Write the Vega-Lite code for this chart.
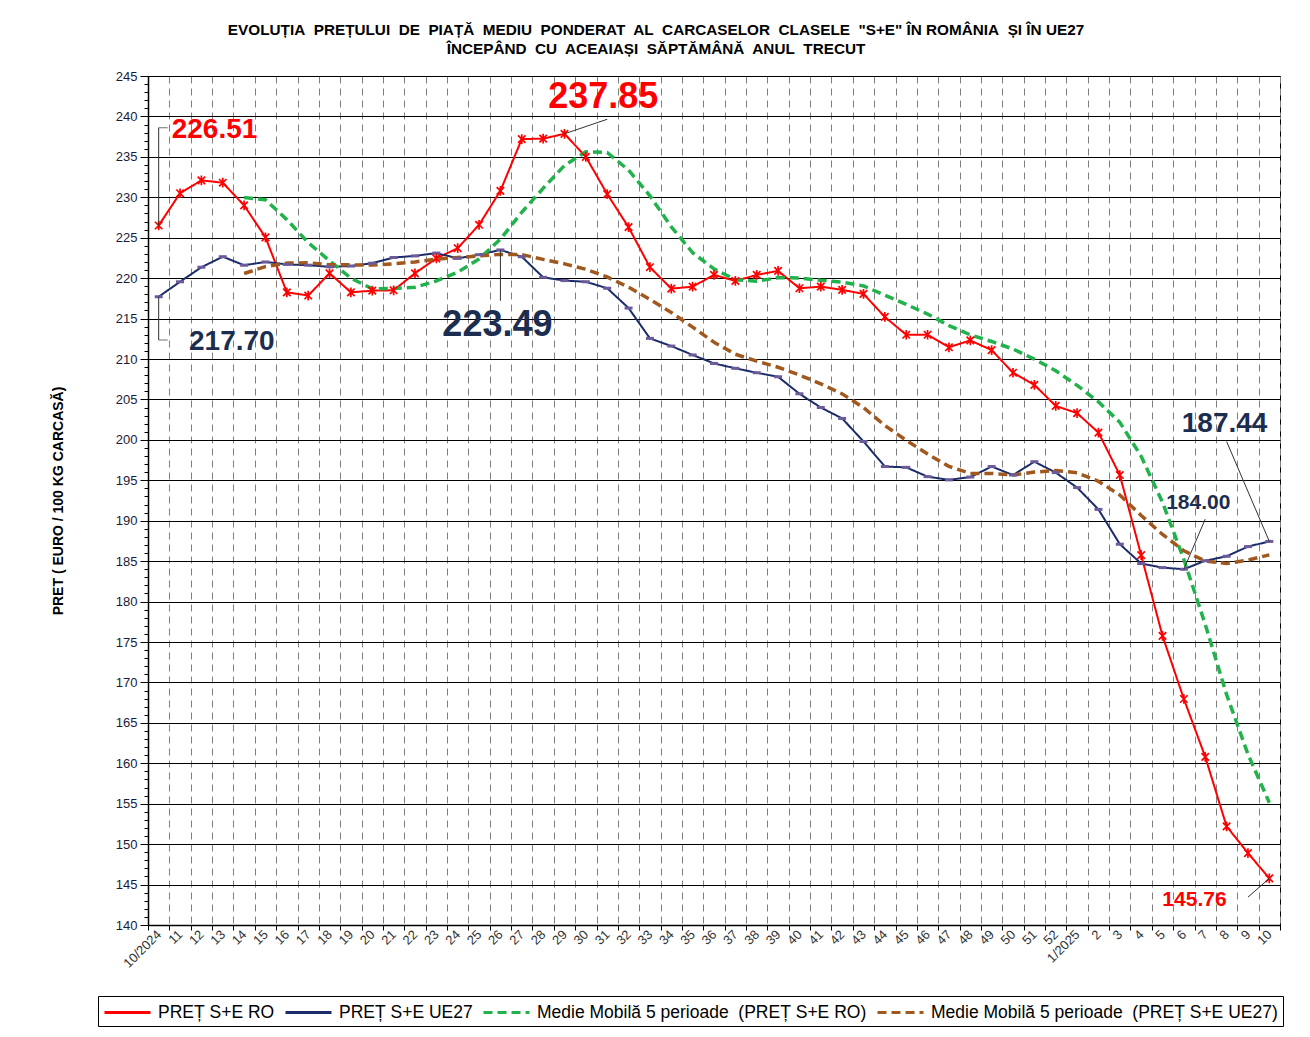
{
  "$schema": "https://vega.github.io/schema/vega-lite/v6.json",
  "width": 1132,
  "height": 849,
  "autosize": {"type": "none"},
  "padding": {"left": 148, "top": 76, "right": 30, "bottom": 112},
  "background": "white",
  "title": {
    "text": ["EVOLUȚIA\u00a0 PREȚULUI\u00a0 DE\u00a0 PIAȚĂ\u00a0 MEDIU\u00a0 PONDERAT\u00a0 AL\u00a0 CARCASELOR\u00a0 CLASELE\u00a0 \"S+E\" ÎN ROMÂNIA\u00a0 ȘI ÎN UE27", "ÎNCEPÂND\u00a0 CU\u00a0 ACEAIAȘI\u00a0 SĂPTĂMÂNĂ\u00a0 ANUL\u00a0 TRECUT"],
    "font": "Liberation Sans",
    "fontSize": 15.3,
    "fontWeight": "bold",
    "color": "#000",
    "anchor": "middle",
    "lineHeight": 19,
    "offset": 13,
    "dx": -58
  },
  "config": {"view": {"stroke": "#000", "strokeWidth": 1}},
  "datasets": {
    "weekly": [
      {"week": "10/2024", "ro": 226.51, "ue": 217.70, "ma_ro": null, "ma_ue": null},
      {"week": "11", "ro": 230.5, "ue": 219.55, "ma_ro": null, "ma_ue": null},
      {"week": "12", "ro": 232.1, "ue": 221.35, "ma_ro": null, "ma_ue": null},
      {"week": "13", "ro": 231.8, "ue": 222.65, "ma_ro": null, "ma_ue": null},
      {"week": "14", "ro": 229.0, "ue": 221.6, "ma_ro": 229.98, "ma_ue": 220.57},
      {"week": "15", "ro": 225.05, "ue": 222.0, "ma_ro": 229.69, "ma_ue": 221.43},
      {"week": "16", "ro": 218.25, "ue": 221.7, "ma_ro": 227.24, "ma_ue": 221.86},
      {"week": "17", "ro": 217.85, "ue": 221.6, "ma_ro": 224.39, "ma_ue": 221.91},
      {"week": "18", "ro": 220.6, "ue": 221.4, "ma_ro": 222.15, "ma_ue": 221.66},
      {"week": "19", "ro": 218.25, "ue": 221.5, "ma_ro": 220.0, "ma_ue": 221.64},
      {"week": "20", "ro": 218.45, "ue": 221.85, "ma_ro": 218.68, "ma_ue": 221.61},
      {"week": "21", "ro": 218.5, "ue": 222.55, "ma_ro": 218.73, "ma_ue": 221.78},
      {"week": "22", "ro": 220.6, "ue": 222.75, "ma_ro": 218.88, "ma_ue": 222.01},
      {"week": "23", "ro": 222.45, "ue": 223.1, "ma_ro": 219.65, "ma_ue": 222.35},
      {"week": "24", "ro": 223.7, "ue": 222.45, "ma_ro": 220.74, "ma_ue": 222.54},
      {"week": "25", "ro": 226.6, "ue": 222.9, "ma_ro": 222.37, "ma_ue": 222.75},
      {"week": "26", "ro": 230.8, "ue": 223.49, "ma_ro": 224.83, "ma_ue": 222.94},
      {"week": "27", "ro": 237.2, "ue": 222.65, "ma_ro": 228.15, "ma_ue": 222.92},
      {"week": "28", "ro": 237.25, "ue": 220.1, "ma_ro": 231.11, "ma_ue": 222.32},
      {"week": "29", "ro": 237.85, "ue": 219.7, "ma_ro": 233.94, "ma_ue": 221.77},
      {"week": "30", "ro": 235.0, "ue": 219.55, "ma_ro": 235.62, "ma_ue": 221.10},
      {"week": "31", "ro": 230.4, "ue": 218.75, "ma_ro": 235.54, "ma_ue": 220.15},
      {"week": "32", "ro": 226.3, "ue": 216.3, "ma_ro": 233.36, "ma_ue": 218.88},
      {"week": "33", "ro": 221.35, "ue": 212.55, "ma_ro": 230.18, "ma_ue": 217.37},
      {"week": "34", "ro": 218.7, "ue": 211.6, "ma_ro": 226.35, "ma_ue": 215.75},
      {"week": "35", "ro": 218.95, "ue": 210.5, "ma_ro": 223.14, "ma_ue": 213.94},
      {"week": "36", "ro": 220.4, "ue": 209.45, "ma_ro": 221.14, "ma_ue": 212.08},
      {"week": "37", "ro": 219.65, "ue": 208.85, "ma_ro": 219.81, "ma_ue": 210.59},
      {"week": "38", "ro": 220.4, "ue": 208.3, "ma_ro": 219.62, "ma_ue": 209.74},
      {"week": "39", "ro": 220.9, "ue": 207.8, "ma_ro": 220.06, "ma_ue": 208.98},
      {"week": "40", "ro": 218.75, "ue": 205.7, "ma_ro": 220.02, "ma_ue": 208.02},
      {"week": "41", "ro": 218.95, "ue": 204.0, "ma_ro": 219.73, "ma_ue": 206.93},
      {"week": "42", "ro": 218.55, "ue": 202.65, "ma_ro": 219.51, "ma_ue": 205.69},
      {"week": "43", "ro": 218.05, "ue": 199.8, "ma_ro": 219.04, "ma_ue": 203.99},
      {"week": "44", "ro": 215.2, "ue": 196.7, "ma_ro": 217.9, "ma_ue": 201.77},
      {"week": "45", "ro": 213.0, "ue": 196.6, "ma_ro": 216.75, "ma_ue": 199.95},
      {"week": "46", "ro": 213.0, "ue": 195.45, "ma_ro": 215.56, "ma_ue": 198.24},
      {"week": "47", "ro": 211.45, "ue": 195.05, "ma_ro": 214.14, "ma_ue": 196.72},
      {"week": "48", "ro": 212.3, "ue": 195.4, "ma_ro": 212.99, "ma_ue": 195.84},
      {"week": "49", "ro": 211.1, "ue": 196.7, "ma_ro": 212.17, "ma_ue": 195.84},
      {"week": "50", "ro": 208.3, "ue": 195.65, "ma_ro": 211.23, "ma_ue": 195.65},
      {"week": "51", "ro": 206.8, "ue": 197.3, "ma_ro": 209.99, "ma_ue": 196.02},
      {"week": "52", "ro": 204.2, "ue": 195.95, "ma_ro": 208.54, "ma_ue": 196.2},
      {"week": "1/2025", "ro": 203.3, "ue": 194.1, "ma_ro": 206.74, "ma_ue": 195.94},
      {"week": "2", "ro": 200.9, "ue": 191.4, "ma_ro": 204.7, "ma_ue": 194.88},
      {"week": "3", "ro": 195.65, "ue": 187.1, "ma_ro": 202.17, "ma_ue": 193.17},
      {"week": "4", "ro": 185.75, "ue": 184.7, "ma_ro": 197.96, "ma_ue": 190.65},
      {"week": "5", "ro": 175.75, "ue": 184.2, "ma_ro": 192.27, "ma_ue": 188.3},
      {"week": "6", "ro": 167.95, "ue": 184.0, "ma_ro": 185.2, "ma_ue": 186.28},
      {"week": "7", "ro": 160.8, "ue": 185.05, "ma_ro": 177.18, "ma_ue": 185.01},
      {"week": "8", "ro": 152.2, "ue": 185.6, "ma_ro": 168.49, "ma_ue": 184.71},
      {"week": "9", "ro": 148.9, "ue": 186.8, "ma_ro": 161.12, "ma_ue": 185.13},
      {"week": "10", "ro": 145.76, "ue": 187.44, "ma_ro": 155.12, "ma_ue": 185.78}
    ],
    "leaders": [
      {"g": "a", "week": "10/2024", "value": 226.51},
      {"g": "a", "week": "10/2024", "value": 238.6},
      {"g": "b", "week": "10/2024", "value": 217.7},
      {"g": "b", "week": "10/2024", "value": 212.35},
      {"g": "c", "week": "29", "value": 237.85},
      {"g": "c", "week": "31", "value": 239.65},
      {"g": "d", "week": "26", "value": 223.49},
      {"g": "d", "week": "26", "value": 217.2},
      {"g": "e", "week": "10", "value": 187.44},
      {"g": "e", "week": "8", "value": 199.8},
      {"g": "f", "week": "6", "value": 184.0},
      {"g": "f", "week": "7", "value": 190.2},
      {"g": "g", "week": "10", "value": 145.76},
      {"g": "g", "week": "9", "value": 143.45}
    ],
    "leaderEnds": [
      {"week": "10/2024", "value": 238.6},
      {"week": "10/2024", "value": 212.35}
    ]
  },
  "layer": [
    {
      "data": {"name": "weekly"},
      "transform": [{"fold": ["ro", "ue", "ma_ro", "ma_ue"], "as": ["series", "price"]}],
      "mark": {"type": "line", "strokeJoin": "round", "strokeCap": "butt"},
      "encoding": {
        "x": {
          "field": "week", "type": "ordinal",
          "scale": {"type": "band", "paddingInner": 0, "paddingOuter": 0,
            "domain": ["10/2024","11","12","13","14","15","16","17","18","19","20","21","22","23","24","25","26","27","28","29","30","31","32","33","34","35","36","37","38","39","40","41","42","43","44","45","46","47","48","49","50","51","52","1/2025","2","3","4","5","6","7","8","9","10"]},
          "axis": {
            "title": null, "tickBand": "extent", "grid": true, "gridDash": [7, 5], "gridColor": "#808080", "gridWidth": 1,
            "labelAngle": -45, "labelAlign": "right", "labelBaseline": "middle", "labelFontSize": 13,
            "labelFont": "Liberation Sans", "labelColor": "#333", "labelPadding": 2, "labelOverlap": false,
            "tickSize": 5, "tickColor": "#000", "domainColor": "#000", "domainWidth": 1.5
          }
        },
        "y": {
          "field": "price", "type": "quantitative",
          "scale": {"domain": [140, 245], "nice": false, "zero": false},
          "axis": {
            "title": "PRET ( EURO / 100 KG CARCASĂ)",
            "values": [140,141,142,143,144,145,146,147,148,149,150,151,152,153,154,155,156,157,158,159,160,161,162,163,164,165,166,167,168,169,170,171,172,173,174,175,176,177,178,179,180,181,182,183,184,185,186,187,188,189,190,191,192,193,194,195,196,197,198,199,200,201,202,203,204,205,206,207,208,209,210,211,212,213,214,215,216,217,218,219,220,221,222,223,224,225,226,227,228,229,230,231,232,233,234,235,236,237,238,239,240,241,242,243,244,245],
            "tickCount": 500,
            "format": "d",
            "labelExpr": "datum.value % 5 === 0 ? datum.label : ''",
            "labelOverlap": false,
            "grid": true, "gridColor": "#000", "gridWidth": 1,
            "gridOpacity": {"condition": {"test": "datum.value % 5 === 0", "value": 1}, "value": 0},
            "tickSize": {"condition": {"test": "datum.value % 5 === 0", "value": 8}, "value": 4},
            "tickColor": "#000", "domainColor": "#000", "domainWidth": 1.5,
            "labelFontSize": 13, "labelFont": "Liberation Sans", "labelColor": "#1a1a3a", "labelPadding": 3,
            "titleFont": "Liberation Sans", "titleFontSize": 14, "titleFontWeight": "bold", "titleColor": "#000",
            "titlePadding": 50
          }
        },
        "color": {
          "field": "series", "type": "nominal",
          "scale": {"domain": ["ro", "ue", "ma_ro", "ma_ue"], "range": ["#ff0000", "#1c2c6a", "#21b24b", "#a0581e"]},
          "legend": {
            "orient": "none", "legendX": -50, "legendY": 920, "direction": "horizontal", "title": null,
            "strokeColor": "#000", "fillColor": "#fff", "padding": 5,
            "symbolType": "M-1,0L3.6,0", "symbolSize": 400, "symbolStrokeWidth": 3, "labelOffset": 32,
            "labelFont": "Liberation Sans", "labelFontSize": 17.5, "labelColor": "#000",
            "labelLimit": 0, "columnPadding": 4,
            "labelExpr": "{'ro': 'PREȚ S+E RO', 'ue': 'PREȚ S+E UE27', 'ma_ro': 'Medie Mobilă 5 perioade\u00a0 (PREȚ S+E RO)', 'ma_ue': 'Medie Mobilă 5 perioade\u00a0 (PREȚ S+E UE27)'}[datum.label]"
          }
        },
        "strokeDash": {
          "field": "series", "type": "nominal",
          "scale": {"domain": ["ro", "ue", "ma_ro", "ma_ue"], "range": [[1, 0], [1, 0], [9, 5], [9, 5]]},
          "legend": {
            "orient": "none", "legendX": -50, "legendY": 920, "direction": "horizontal", "title": null,
            "strokeColor": "#000", "fillColor": "#fff", "padding": 5,
            "symbolType": "M-1,0L3.6,0", "symbolSize": 400, "symbolStrokeWidth": 3, "labelOffset": 32,
            "labelFont": "Liberation Sans", "labelFontSize": 17.5, "labelColor": "#000",
            "labelLimit": 0, "columnPadding": 4,
            "labelExpr": "{'ro': 'PREȚ S+E RO', 'ue': 'PREȚ S+E UE27', 'ma_ro': 'Medie Mobilă 5 perioade\u00a0 (PREȚ S+E RO)', 'ma_ue': 'Medie Mobilă 5 perioade\u00a0 (PREȚ S+E UE27)'}[datum.label]"
          }
        },
        "strokeWidth": {
          "condition": {"test": "datum.series === 'ma_ro' || datum.series === 'ma_ue'", "value": 3.5},
          "value": 2
        }
      }
    },
    {
      "data": {"name": "weekly"},
      "mark": {"type": "point", "shape": "M-1,0L1,0", "size": 64, "stroke": "#6c5b9a", "strokeWidth": 3, "filled": false, "opacity": 1},
      "encoding": {
        "x": {"field": "week", "type": "ordinal"},
        "y": {"field": "ue", "type": "quantitative"}
      }
    },
    {
      "data": {"name": "weekly"},
      "mark": {"type": "point", "shape": "M-1,-1L1,1M-1,1L1,-1M0,-1.3L0,1.3", "size": 56, "stroke": "#ff0000", "strokeWidth": 1.7, "filled": false, "opacity": 1},
      "encoding": {
        "x": {"field": "week", "type": "ordinal"},
        "y": {"field": "ro", "type": "quantitative"}
      }
    },
    {
      "data": {"name": "leaders"},
      "mark": {"type": "line", "color": "#333", "strokeWidth": 1},
      "encoding": {
        "x": {"field": "week", "type": "ordinal"},
        "y": {"field": "value", "type": "quantitative"},
        "detail": {"field": "g", "type": "nominal"}
      }
    },
    {
      "data": {"name": "leaderEnds"},
      "mark": {"type": "tick", "orient": "horizontal", "size": 9, "thickness": 1, "color": "#333", "xOffset": 4.5},
      "encoding": {
        "x": {"field": "week", "type": "ordinal"},
        "y": {"field": "value", "type": "quantitative"}
      }
    },
    {
      "data": {"values": [{"week": "31", "value": 242.4, "label": "237.85"}]},
      "mark": {"type": "text", "font": "Liberation Sans", "fontWeight": "bold", "fontSize": 36, "color": "#ff0000", "align": "center", "baseline": "middle", "dx": -4},
      "encoding": {
        "x": {"field": "week", "type": "ordinal"},
        "y": {"field": "value", "type": "quantitative"},
        "text": {"field": "label"}
      }
    },
    {
      "data": {"values": [{"week": "10/2024", "value": 238.3, "label": "226.51"}]},
      "mark": {"type": "text", "font": "Liberation Sans", "fontWeight": "bold", "fontSize": 28, "color": "#ff0000", "align": "left", "baseline": "middle", "dx": 13},
      "encoding": {
        "x": {"field": "week", "type": "ordinal"},
        "y": {"field": "value", "type": "quantitative"},
        "text": {"field": "label"}
      }
    },
    {
      "data": {"values": [{"week": "11", "value": 212.1, "label": "217.70"}]},
      "mark": {"type": "text", "font": "Liberation Sans", "fontWeight": "bold", "fontSize": 28, "color": "#1c2e50", "align": "left", "baseline": "middle", "dx": 9},
      "encoding": {
        "x": {"field": "week", "type": "ordinal"},
        "y": {"field": "value", "type": "quantitative"},
        "text": {"field": "label"}
      }
    },
    {
      "data": {"values": [{"week": "8", "value": 202.0, "label": "187.44"}]},
      "mark": {"type": "text", "font": "Liberation Sans", "fontWeight": "bold", "fontSize": 28, "color": "#1c2e50", "align": "center", "baseline": "middle", "dx": -2},
      "encoding": {
        "x": {"field": "week", "type": "ordinal"},
        "y": {"field": "value", "type": "quantitative"},
        "text": {"field": "label"}
      }
    },
    {
      "data": {"values": [{"week": "26", "value": 214.2, "label": "223.49"}]},
      "mark": {"type": "text", "font": "Liberation Sans", "fontWeight": "bold", "fontSize": 36, "color": "#1c2e50", "align": "center", "baseline": "middle", "dx": -3},
      "encoding": {
        "x": {"field": "week", "type": "ordinal"},
        "y": {"field": "value", "type": "quantitative"},
        "text": {"field": "label"}
      }
    },
    {
      "data": {"values": [{"week": "7", "value": 192.2, "label": "184.00"}]},
      "mark": {"type": "text", "font": "Liberation Sans", "fontWeight": "bold", "fontSize": 21, "color": "#1c2e50", "align": "center", "baseline": "middle", "dx": -7},
      "encoding": {
        "x": {"field": "week", "type": "ordinal"},
        "y": {"field": "value", "type": "quantitative"},
        "text": {"field": "label"}
      }
    },
    {
      "data": {"values": [{"week": "8", "value": 143.1, "label": "145.76"}]},
      "mark": {"type": "text", "font": "Liberation Sans", "fontWeight": "bold", "fontSize": 21, "color": "#ff0000", "align": "right", "baseline": "middle", "dx": 0},
      "encoding": {
        "x": {"field": "week", "type": "ordinal"},
        "y": {"field": "value", "type": "quantitative"},
        "text": {"field": "label"}
      }
    }
  ]
}
